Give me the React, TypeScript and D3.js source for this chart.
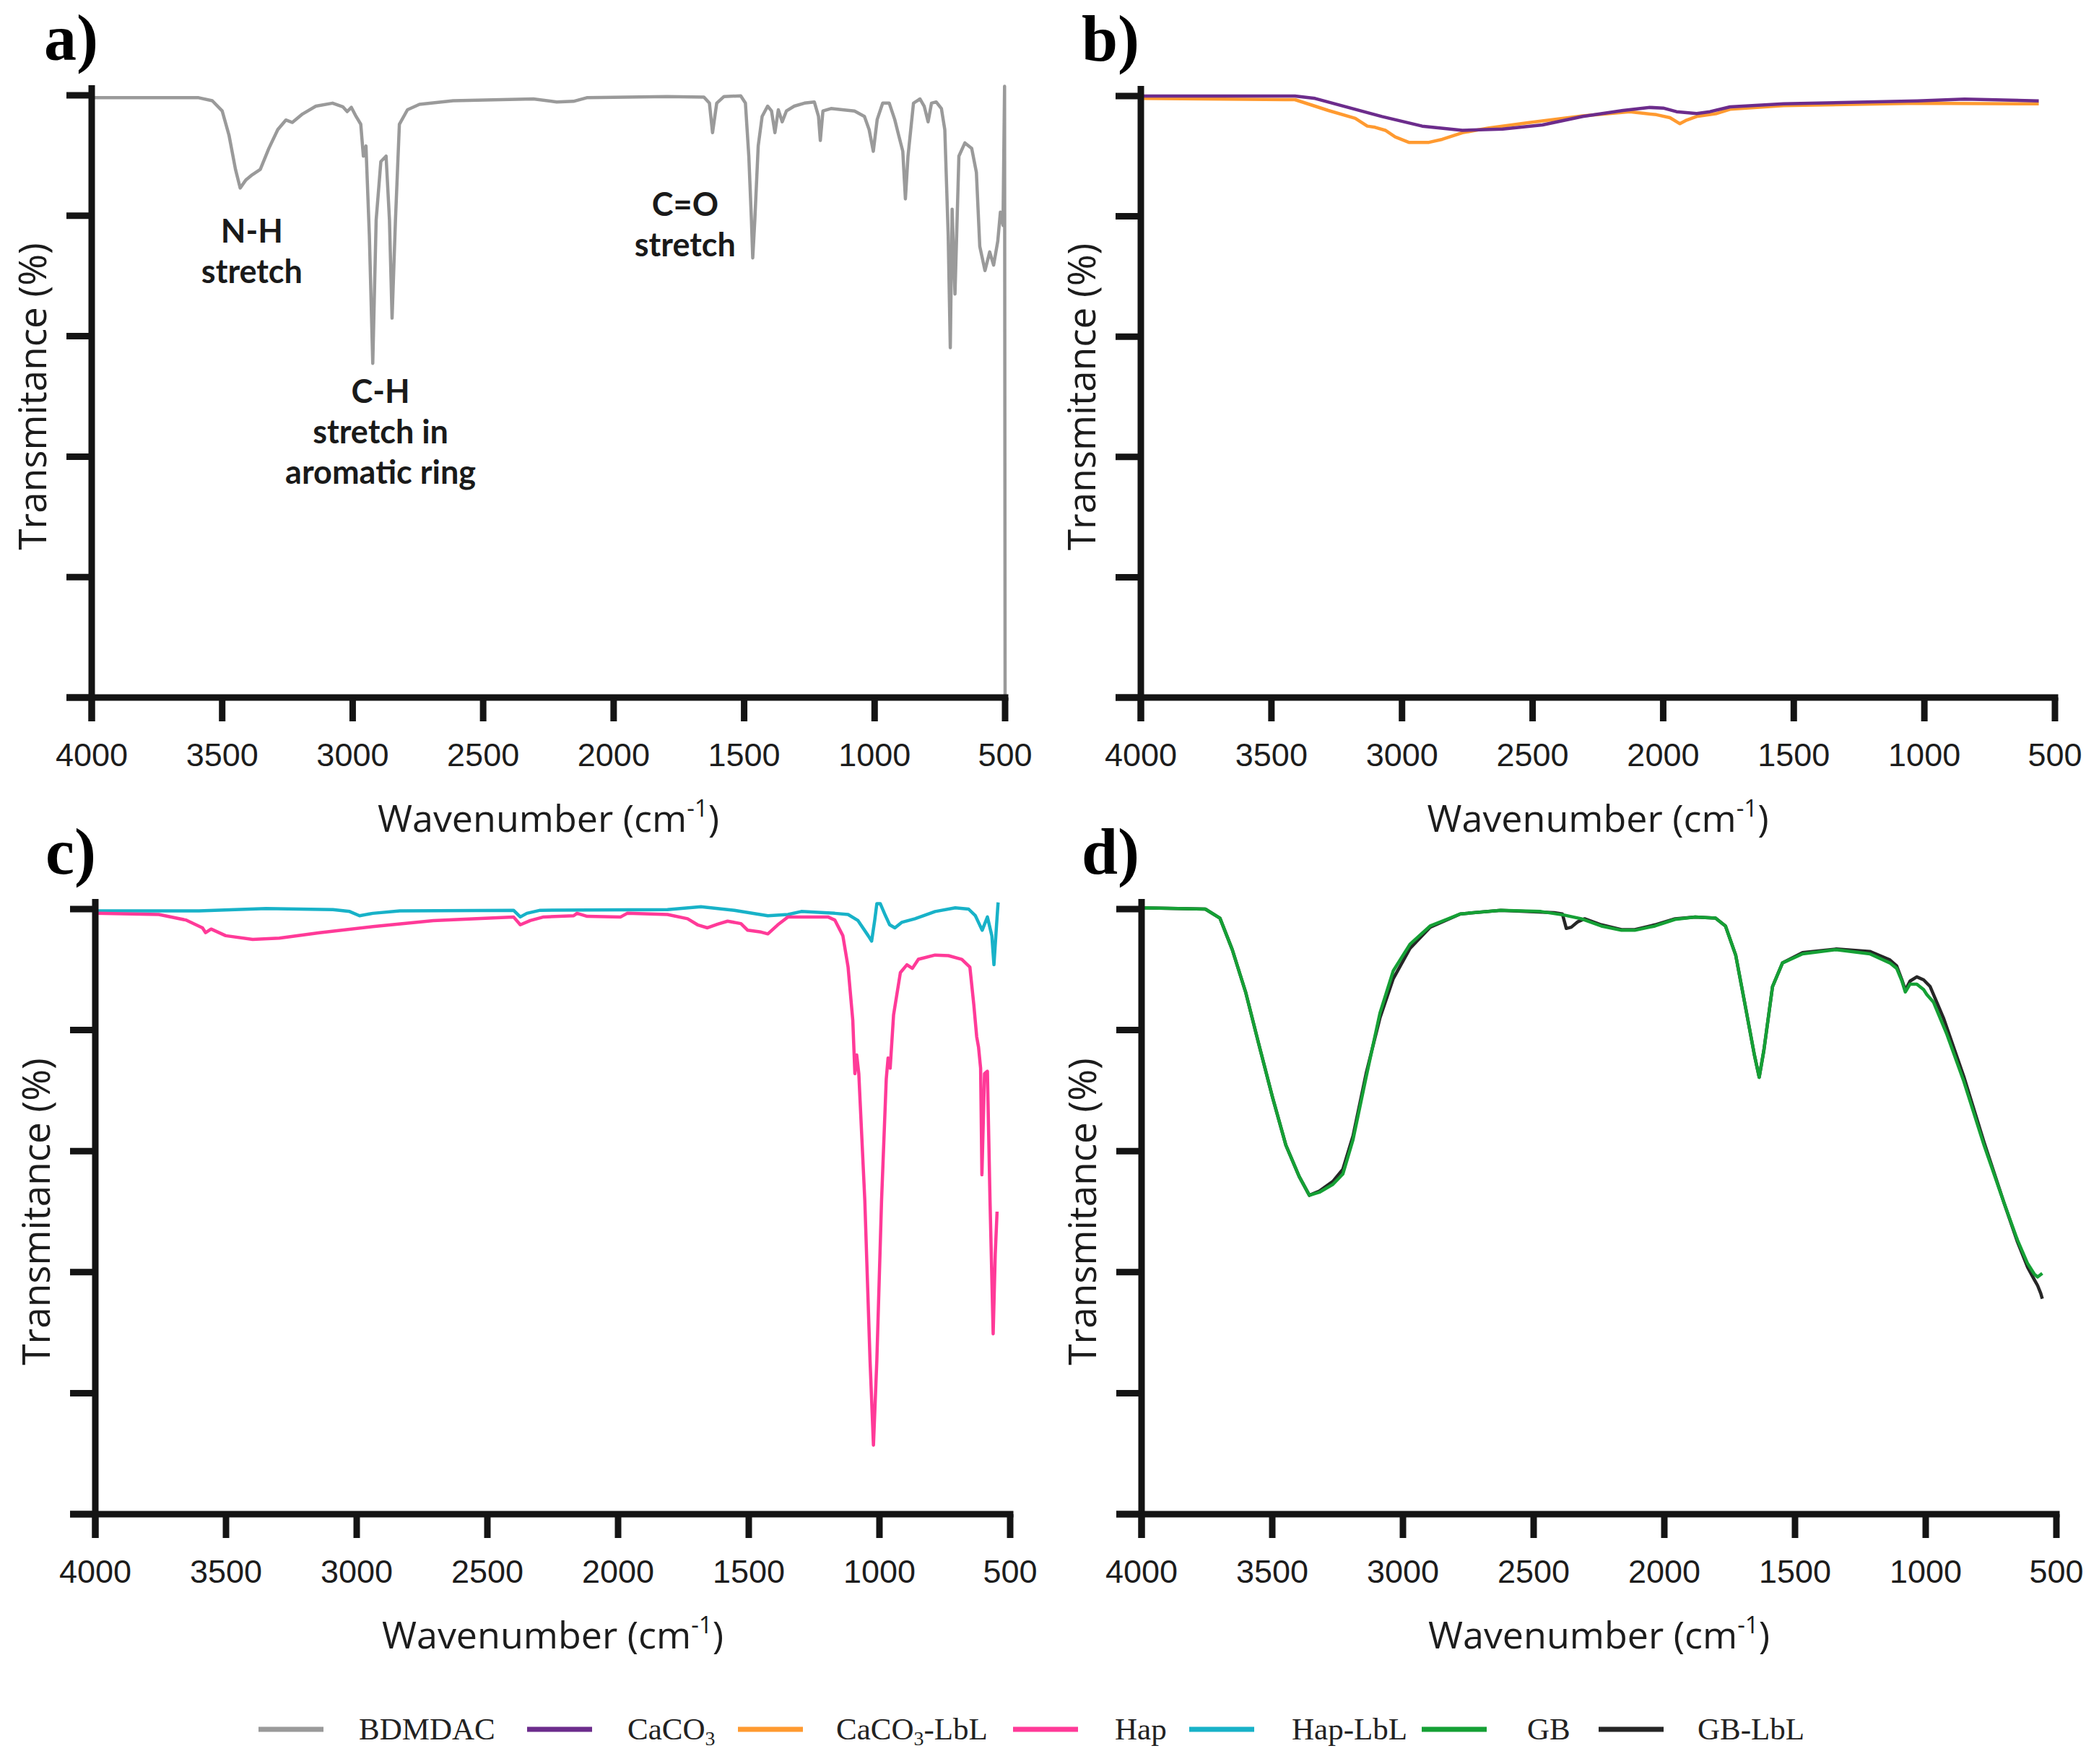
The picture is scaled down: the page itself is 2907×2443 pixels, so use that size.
import React from "react";
import * as d3 from "d3";

// ---------- DATA (wavenumber cm-1, transmittance %) ----------
const BDMDAC: [number, number][] = [
  [4000, 99.6], [3590, 99.6], [3538, 99.1], [3500, 97.4], [3474, 93.4], [3449, 87.7], [3431, 84.6],
  [3410, 85.9], [3385, 86.8], [3354, 87.7], [3321, 91.2], [3287, 94.3], [3256, 95.9], [3231, 95.5],
  [3192, 96.9], [3141, 98.2], [3077, 98.7], [3038, 98.1], [3021, 97.3], [3005, 98.0], [2987, 96.5],
  [2969, 95.2], [2959, 89.9], [2949, 91.6], [2936, 76.7], [2923, 55.5], [2910, 79.3], [2892, 89.0],
  [2872, 89.9], [2859, 79.3], [2849, 63.0], [2836, 79.3], [2821, 95.2], [2790, 97.6], [2744, 98.5],
  [2615, 99.1], [2308, 99.4], [2218, 98.9], [2154, 99.0], [2103, 99.6], [1795, 99.8], [1654, 99.7],
  [1633, 98.7], [1621, 93.8], [1605, 98.7], [1577, 99.8], [1513, 99.9], [1495, 98.7], [1482, 89.9],
  [1472, 79.3], [1467, 73.0], [1459, 79.3], [1446, 91.6], [1431, 96.5], [1410, 98.2], [1395, 97.4],
  [1382, 93.8], [1369, 97.6], [1354, 95.6], [1338, 97.4], [1308, 98.2], [1269, 98.7], [1231, 98.9],
  [1215, 96.5], [1208, 92.5], [1198, 97.4], [1167, 97.8], [1123, 97.6], [1077, 97.4], [1039, 96.5],
  [1021, 94.3], [1005, 90.7], [990, 96.0], [969, 98.7], [944, 98.7], [923, 96.0], [908, 93.4],
  [892, 90.7], [882, 82.8], [872, 89.9], [851, 98.7], [826, 99.4], [810, 98.2], [795, 95.6],
  [782, 98.7], [764, 98.9], [744, 97.8], [731, 94.3], [718, 76.7], [710, 58.1], [703, 81.1],
  [692, 67.0], [677, 89.9], [654, 92.1], [628, 91.2], [610, 87.2], [597, 74.9], [577, 70.9],
  [559, 74.0], [544, 71.8], [528, 75.8], [518, 80.6], [508, 78.4], [502, 101.5], [500, 0],
];

const CACO3: [number, number][] = [
  [4000, 100], [3410, 100], [3333, 99.6], [3205, 98.1], [3077, 96.6], [2923, 95.0], [2769, 94.3],
  [2615, 94.5], [2462, 95.2], [2308, 96.6], [2154, 97.6], [2051, 98.1], [2000, 98.0], [1949, 97.4],
  [1872, 97.1], [1821, 97.4], [1744, 98.2], [1539, 98.7], [1026, 99.2], [846, 99.5], [562, 99.2],
];

const CACO3_LBL: [number, number][] = [
  [4000, 99.6], [3410, 99.4], [3346, 98.5], [3282, 97.6], [3179, 96.3], [3133, 95.0], [3103, 94.8],
  [3064, 94.3], [3026, 93.2], [2974, 92.3], [2897, 92.3], [2846, 92.8], [2769, 93.9], [2667, 94.7],
  [2513, 95.6], [2308, 96.7], [2128, 97.4], [2026, 96.9], [1974, 96.4], [1936, 95.4], [1910, 96.0],
  [1872, 96.6], [1795, 97.1], [1744, 97.8], [1539, 98.4], [1026, 98.8], [562, 98.7],
];

const HAP: [number, number][] = [
  [4000, 99.3], [3757, 99.1], [3654, 98.2], [3590, 96.9], [3578, 96.1], [3557, 96.7], [3501, 95.6],
  [3398, 95.0], [3296, 95.2], [3142, 96.1], [2938, 97.1], [2707, 98.1], [2400, 98.7], [2374, 97.4],
  [2336, 98.1], [2285, 98.7], [2170, 98.9], [2157, 99.3], [2118, 98.8], [1990, 98.7], [1965, 99.3],
  [1811, 99.1], [1734, 98.4], [1696, 97.4], [1658, 96.9], [1619, 97.5], [1581, 98.0], [1530, 97.6],
  [1504, 96.5], [1453, 96.2], [1427, 95.9], [1389, 97.4], [1350, 98.7], [1197, 98.7], [1171, 98.2],
  [1140, 95.6], [1120, 90.4], [1102, 81.6], [1094, 72.8], [1087, 75.9], [1079, 72.8], [1056, 51.8],
  [1036, 25.4], [1023, 11.4], [1010, 25.4], [992, 51.8], [974, 71.9], [967, 75.4], [959, 73.7],
  [946, 82.5], [920, 89.5], [895, 90.8], [874, 90.2], [851, 91.7], [787, 92.4], [736, 92.3],
  [685, 91.7], [654, 90.4], [639, 84.2], [628, 78.9], [621, 77.2], [613, 73.7], [608, 56.1],
  [598, 72.8], [587, 73.2], [577, 51.8], [565, 29.8], [557, 43.0], [550, 50.0],
];

const HAP_LBL: [number, number][] = [
  [4000, 99.7], [3603, 99.7], [3347, 100.1], [3091, 99.9], [3027, 99.6], [2989, 98.9], [2938, 99.3],
  [2835, 99.7], [2400, 99.8], [2374, 98.7], [2349, 99.3], [2298, 99.8], [1811, 99.9], [1683, 100.4],
  [1555, 99.8], [1427, 98.9], [1350, 99.1], [1299, 99.6], [1171, 99.3], [1120, 99.1], [1082, 98.1],
  [1043, 95.6], [1030, 94.7], [1018, 98.2], [1010, 100.9], [997, 100.9], [979, 99.1], [961, 97.4],
  [941, 96.9], [915, 97.8], [864, 98.4], [787, 99.6], [710, 100.2], [659, 100.0], [633, 98.9],
  [607, 96.5], [587, 98.7], [570, 95.6], [562, 90.8], [552, 97.4], [546, 101.1],
];

const GB: [number, number][] = [
  [4000, 100.2], [3756, 100], [3700, 98.5], [3653, 93.3], [3602, 86.3], [3551, 77.6], [3499, 68.9],
  [3448, 61.0], [3397, 55.8], [3358, 52.7], [3320, 53.2], [3268, 54.5], [3230, 56.2], [3191, 61.9],
  [3140, 72.4], [3088, 82.8], [3037, 89.8], [2973, 94.2], [2896, 97.2], [2780, 99.2], [2626, 99.8],
  [2472, 99.6], [2382, 99.0], [2318, 98.4], [2241, 97.2], [2164, 96.5], [2113, 96.5], [2036, 97.2],
  [1959, 98.3], [1882, 98.7], [1804, 98.5], [1766, 97.2], [1727, 92.4], [1689, 83.7], [1655, 75.8],
  [1637, 72.2], [1619, 76.7], [1586, 87.2], [1548, 91.1], [1471, 92.6], [1342, 93.3], [1214, 92.6],
  [1137, 91.1], [1111, 90.2], [1091, 88.1], [1078, 86.3], [1060, 87.6], [1034, 87.6], [1008, 86.7],
  [996, 85.9], [970, 84.6], [919, 79.3], [854, 71.5], [777, 61.0], [700, 51.4], [649, 45.3],
  [610, 41.4], [585, 39.7], [572, 39.2], [554, 39.8],
];

const GB_LBL: [number, number][] = [
  [4000, 100.2], [3756, 100], [3700, 98.5], [3653, 93.3], [3602, 86.3], [3551, 77.6], [3499, 68.9],
  [3448, 61.0], [3397, 55.8], [3358, 52.7], [3320, 53.4], [3268, 55.0], [3230, 57.0], [3191, 62.5],
  [3140, 73.0], [3088, 82.0], [3037, 88.5], [2973, 93.5], [2896, 97.0], [2780, 99.2], [2626, 99.8],
  [2421, 99.4], [2390, 99.2], [2375, 96.8], [2356, 97.0], [2331, 97.9], [2305, 98.4], [2241, 97.4],
  [2164, 96.6], [2113, 96.6], [2036, 97.4], [1959, 98.4], [1882, 98.7], [1804, 98.5], [1766, 97.2],
  [1727, 92.4], [1689, 83.7], [1655, 75.8], [1637, 72.2], [1619, 76.7], [1586, 87.2], [1548, 91.1],
  [1471, 92.8], [1342, 93.4], [1214, 93.0], [1137, 91.6], [1111, 90.6], [1091, 88.3], [1078, 86.6],
  [1060, 88.1], [1034, 88.8], [1008, 88.3], [983, 87.2], [932, 82.0], [854, 72.3], [777, 61.5],
  [700, 51.4], [649, 45.0], [610, 40.8], [585, 38.8], [572, 37.8], [560, 36.5], [554, 35.6],
];

const X_TICKS = [4000, 3500, 3000, 2500, 2000, 1500, 1000, 500];
const Y_TICKS = [0, 20, 40, 60, 80, 100];

const SERIES_NAMES = ["BDMDAC", "CaCO3", "CaCO3-LbL", "Hap", "Hap-LbL", "GB", "GB-LbL"];
const SERIES_COLORS = ["#9a9a9a", "#6c2c8c", "#ff9a30", "#ff3a98", "#18b2c8", "#15a035", "#262626"];

// ---------- LAYOUT ----------
type Frame = { label: string; x0: number; x1: number; yB: number; yT: number; lx: number; series: number[] };
const FRAMES: Frame[] = [
  { label: "a)", x0: 127, x1: 1392, yB: 966, yT: 132, lx: 61, series: [0] },
  { label: "b)", x0: 1580, x1: 2846, yB: 966, yT: 133, lx: 1498, series: [2, 1] },
  { label: "c)", x0: 132, x1: 1399, yB: 2097, yT: 1259, lx: 63, series: [4, 3] },
  { label: "d)", x0: 1581, x1: 2848, yB: 2097, yT: 1259, lx: 1498, series: [6, 5] },
];
const ALL_DATA = [BDMDAC, CACO3, CACO3_LBL, HAP, HAP_LBL, GB, GB_LBL];
const LEGEND_LINE_X = [358, 730, 1022, 1403, 1647, 1969, 2214];
const LEGEND_TEXT_X = [497, 869, 1158, 1544, 1789, 2115, 2351];

const INK = "#141414";
const AXIS_W = 9;

function Panel({ f }: { f: Frame }) {
  const x = d3.scaleLinear().domain([4000, 500]).range([f.x0, f.x1]);
  const y = d3.scaleLinear().domain([0, 100]).range([f.yB, f.yT]);
  const line = d3.line<[number, number]>().x((d) => x(d[0])).y((d) => y(d[1]));
  const midX = (f.x0 + f.x1) / 2;
  const midY = (f.yB + f.yT) / 2;
  return (
    <g>
      {f.series.map((si) => (
        <path key={si} d={line(ALL_DATA[si]) || ""} fill="none" stroke={SERIES_COLORS[si]}
          strokeWidth={4.5} strokeLinejoin="round" />
      ))}
      <line x1={x(4000)} x2={x(4000)} y1={f.yT - 14} y2={f.yB + 33} stroke={INK} strokeWidth={AXIS_W} />
      <line x1={f.x0 - 35} x2={x(500) + AXIS_W / 2} y1={f.yB} y2={f.yB} stroke={INK} strokeWidth={AXIS_W} />
      {Y_TICKS.map((t) => (
        <line key={"y" + t} x1={f.x0 - 35} x2={f.x0} y1={y(t)} y2={y(t)} stroke={INK} strokeWidth={AXIS_W} />
      ))}
      {X_TICKS.map((t) => (
        <g key={"x" + t}>
          <line x1={x(t)} x2={x(t)} y1={f.yB} y2={f.yB + 33} stroke={INK} strokeWidth={AXIS_W} />
          <text x={x(t)} y={f.yB + 95} textAnchor="middle" fontFamily="'Liberation Sans', Arial, sans-serif"
            fontSize={45} fill="#1c1c1c">{t}</text>
        </g>
      ))}
      <text x={midX} y={f.yB + 186} textAnchor="middle" fontFamily="'Open Sans', sans-serif" fontSize={52} fill="#1c1c1c">
        Wavenumber (cm<tspan dy={-21} fontSize={33}>-1</tspan><tspan dy={21}>)</tspan>
      </text>
      <text transform={`translate(${f.x0 - 63},${midY}) rotate(-90)`} textAnchor="middle"
        fontFamily="'Open Sans', sans-serif" fontSize={53} fill="#1c1c1c">Transmitance  (%)</text>
      <text x={f.lx} y={f.yT - 49} fontFamily="'Liberation Serif', 'Times New Roman', serif" fontWeight="bold"
        fontSize={90} fill="#000">{f.label}</text>
    </g>
  );
}

function Annotations() {
  const f = FRAMES[0];
  const x = d3.scaleLinear().domain([4000, 500]).range([f.x0, f.x1]);
  const notes: { wn: number; y: number; lines: string[] }[] = [
    { wn: 3386, y: 336, lines: ["N-H", "stretch"] },
    { wn: 2893, y: 558, lines: ["C-H", "stretch in", "aromatic ring"] },
    { wn: 1726, y: 299, lines: ["C=O", "stretch"] },
  ];
  return (
    <g>
      {notes.map((n, i) => (
        <text key={i} x={x(n.wn)} y={n.y} textAnchor="middle" fontFamily="Lato, 'Open Sans', sans-serif"
          fontWeight="bold" fontSize={45} fill="#1a1a1a">
          {n.lines.map((l, j) => (
            <tspan key={j} x={x(n.wn)} dy={j === 0 ? 0 : 56}>{l}</tspan>
          ))}
        </text>
      ))}
    </g>
  );
}

function Legend() {
  const yc = 2395;
  return (
    <g>
      {SERIES_NAMES.map((name, i) => {
        const sub = name.startsWith("CaCO3");
        return (
          <g key={name}>
            <line x1={LEGEND_LINE_X[i]} x2={LEGEND_LINE_X[i] + 90} y1={yc} y2={yc} stroke={SERIES_COLORS[i]} strokeWidth={7} />
            <text x={LEGEND_TEXT_X[i]} y={yc + 14} fontFamily="'Liberation Serif', 'Times New Roman', serif" fontSize={43} fill="#222">
              {sub ? (
                <>
                  CaCO<tspan dy={8} fontSize={28}>3</tspan>
                  {name.length > 5 ? <tspan dy={-8}>{name.slice(5)}</tspan> : null}
                </>
              ) : name}
            </text>
          </g>
        );
      })}
    </g>
  );
}

export default function App() {
  return (
    <svg width={2907} height={2443} style={{ position: "absolute", left: 0, top: 0, background: "#fff" }}>
      <rect width={2907} height={2443} fill="#fff" />
      {FRAMES.map((f) => <Panel key={f.label} f={f} />)}
      <Annotations />
      <Legend />
    </svg>
  );
}
